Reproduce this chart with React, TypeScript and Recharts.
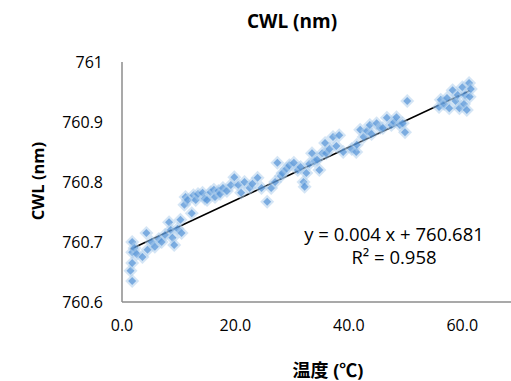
import { ScatterChart, Scatter, XAxis, YAxis, ReferenceLine } from 'recharts';

const tempC = [
  1.5, 1.8, 1.8, 1.8, 1.8, 2.2, 2.6, 3.6, 4.3, 4.5, 5.2, 5.8, 6.5, 7.0, 7.6, 8.3, 8.6, 8.9, 9.2,
  9.8, 10.3, 10.5, 11.0, 11.2, 11.6, 12.3, 12.6, 13.0, 13.4, 14.2, 14.6, 15.0, 15.6, 16.2, 16.4,
  17.0, 17.3, 17.8, 18.5, 19.2, 19.8, 20.5, 21.0, 21.6, 22.5, 23.0, 23.9, 24.6, 25.6, 26.3,
  27.0, 27.4, 28.0, 28.3, 29.0, 29.5, 30.3, 31.0, 31.5, 32.0, 32.2, 32.5, 33.0, 33.5, 34.0,
  34.4, 34.8, 35.3, 35.8, 36.0, 36.6, 37.2, 37.8, 38.3, 39.0, 40.5, 41.3, 41.4, 42.0, 42.6,
  43.2, 43.7, 44.0, 44.9, 45.5, 46.0, 46.7, 47.5, 48.0, 48.4, 49.0, 49.5, 49.9, 50.3, 55.9,
  56.2, 56.8, 57.3, 57.7, 58.3, 58.8, 59.2, 59.5, 60.0, 60.3, 60.5, 60.8, 61.2, 61.3, 61.5,
];
const cwlNm = [
  760.652, 760.635, 760.665, 760.683, 760.7, 760.69, 760.68, 760.675, 760.715, 760.687, 760.7,
  760.692, 760.705, 760.7, 760.712, 760.733, 760.72, 760.707, 760.695, 760.722, 760.737,
  760.715, 760.762, 760.775, 760.77, 760.748, 760.778, 760.77, 760.78, 760.782, 760.772, 760.77,
  760.783, 760.787, 760.775, 760.785, 760.78, 760.79, 760.785, 760.795, 760.808, 760.795,
  760.782, 760.8, 760.79, 760.797, 760.807, 760.79, 760.767, 760.79, 760.8, 760.832, 760.81,
  760.815, 760.822, 760.828, 760.832, 760.82, 760.825, 760.8, 760.792, 760.815, 760.83,
  760.848, 760.835, 760.837, 760.82, 760.848, 760.865, 760.848, 760.855, 760.875, 760.86,
  760.878, 760.85, 760.855, 760.85, 760.862, 760.887, 760.875, 760.885, 760.895, 760.88,
  760.898, 760.89, 760.89, 760.907, 760.895, 760.9, 760.908, 760.895, 760.898, 760.883,
  760.935, 760.925, 760.937, 760.93, 760.94, 760.923, 760.953, 760.935, 760.945, 760.923,
  760.958, 760.93, 760.945, 760.92, 760.965, 760.942, 760.955,
];

// linear trendline endpoints
const trendX = [1.5, 61.3];
const trendY = [760.688, 760.952];

const xTicks = [0, 20, 40, 60];
const yTicks = [760.6, 760.7, 760.8, 760.9, 761];

const points = tempC.map((t, i) => ({ t, cwl: cwlNm[i] }));

const font = '"Open Sans", "Noto Sans CJK JP", sans-serif';

function Diamond(props: any) {
  const { cx, cy } = props;
  const r = 7;
  const q = 4;
  return (
    <g>
      <polygon
        points={`${cx},${cy - r} ${cx + r},${cy} ${cx},${cy + r} ${cx - r},${cy}`}
        fill="#A9CCEC"
        fillOpacity={0.5}
      />
      <polygon
        points={`${cx},${cy - q} ${cx + q},${cy} ${cx},${cy + q} ${cx - q},${cy}`}
        fill="#3F86D2"
        fillOpacity={0.6}
      />
    </g>
  );
}

export default function App() {
  return (
    <div
      style={{
        position: 'absolute', left: 0, top: 0, width: 511, height: 381,
        overflow: 'hidden', background: '#fff', fontFamily: font,
      }}
    >
      <div
        style={{
          position: 'absolute', left: 192, width: 200, top: 8, textAlign: 'center',
          fontSize: 19, fontWeight: 700, color: '#000',
        }}
      >
        CWL (nm)
      </div>
      <div
        style={{
          position: 'absolute', left: 294, width: 200, top: 222, textAlign: 'center',
          fontSize: 18.5, lineHeight: '23px', color: '#000',
        }}
      >
        y = 0.004 x + 760.681
        <br />
        R² = 0.958
      </div>
      <ScatterChart width={525} height={381} margin={{ top: 62, right: 6, bottom: 0, left: 0 }}>
        <XAxis
          type="number"
          dataKey="t"
          domain={[0, 70]}
          ticks={xTicks}
          tickFormatter={(v: number) => v.toFixed(1)}
          height={79}
          axisLine={{ stroke: '#8C8C8C', strokeWidth: 1.5 }}
          tickLine={false}
          tickSize={0}
          tickMargin={18}
          tick={{ fill: '#000', fontSize: 16, fontFamily: font }}
          label={{
            content: () => (
              <text x={328} y={370} textAnchor="middle" dominantBaseline="central"
                fontSize={18} fontWeight={700} fontFamily={font} fill="#000">
                温度 (℃)
              </text>
            ),
          }}
        />
        <YAxis
          type="number"
          dataKey="cwl"
          domain={[760.6, 761]}
          ticks={yTicks}
          tickFormatter={(v: number) => String(Math.round(v * 10) / 10)}
          width={122}
          axisLine={{ stroke: '#8C8C8C', strokeWidth: 1.5 }}
          tickLine={false}
          tickSize={0}
          tickMargin={19}
          tick={{ fill: '#000', fontSize: 16, fontFamily: font }}
          label={{
            content: () => (
              <text x={37} y={181} transform="rotate(-90 37 181)" textAnchor="middle"
                dominantBaseline="central" fontSize={16.5} fontWeight={700} fontFamily={font} fill="#000">
                CWL (nm)
              </text>
            ),
          }}
        />
        <Scatter data={points} shape={<Diamond />} isAnimationActive={false} />
        <ReferenceLine
          segment={[{ x: trendX[0], y: trendY[0] }, { x: trendX[1], y: trendY[1] }]}
          stroke="#000"
          strokeWidth={1.5}
        />
      </ScatterChart>
    </div>
  );
}
